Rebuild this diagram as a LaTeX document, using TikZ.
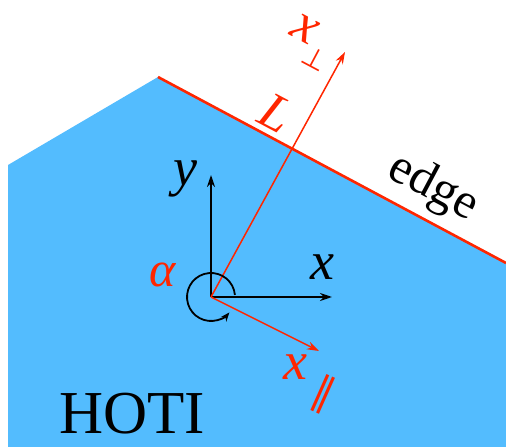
\documentclass[tikz,border=0pt]{standalone}
\usepackage{fontspec}
\setmainfont{Liberation Serif}
\newfontfamily\symf{DejaVu Sans}
\usetikzlibrary{arrows.meta}
\definecolor{hotiblue}{RGB}{83,188,254}
\definecolor{edgered}{RGB}{255,38,0}
\tikzset{
  axis/.style={line width=1.8pt,-{Stealth[length=12pt,width=8pt]}},
  raxis/.style={line width=1.5pt,edgered,-{Stealth[length=12pt,width=8pt]}},
  lab/.style={font=\fontsize{54}{54}\selectfont\itshape,inner sep=0pt},
  rlab/.style={lab,text=edgered},
}
\begin{document}
\begin{tikzpicture}[x=1pt,y=1pt]
\useasboundingbox (0,0) rectangle (506,447);
% body
\coordinate (p1) at (8,282);
\coordinate (p2) at (158,370);
\coordinate (p3) at (506,184);
\fill[hotiblue] (8,0) -- (p1) -- (p2) -- (p3) -- (506,0) -- cycle;
\draw[edgered,line width=2.6pt] (p2) -- (p3);
% axes
\coordinate (o) at (211,150);
\coordinate (ytip) at (211,272);
\coordinate (xtip) at (332,150);
\coordinate (partip) at (319,96);
\coordinate (perptip) at (345,395);
\draw[axis] (o) -- (ytip);
\draw[axis] (o) -- (xtip);
\draw[raxis] (o) -- (partip);
\draw[raxis] (o) -- (perptip);
% angle arc
\draw[line width=1.8pt,-{Stealth[length=9pt,width=7pt]}] ([shift={(5:24)}]o) arc[start angle=5,end angle=320,radius=24];
% labels
\node[lab] (ly) at (185,268) {y};
\node[lab] (lx) at (322,180) {x};
\node[rlab,font=\fontsize{50}{50}\selectfont\itshape] (la) at (163,172) {α};
\node[rlab,rotate=-28,font=\fontsize{52}{52}\selectfont\itshape] (lL) at (276,334) {L};
\node[rlab,rotate=-28,anchor=base west] (lperp) at (288,413) {x\kern-1pt\raisebox{-19pt}{\fontsize{28}{28}\selectfont\symf\upshape ⊥}};
\node[rlab,anchor=base west] (lpar) at (283,67) {x\kern-1pt\raisebox{-26pt}[0pt][0pt]{\rotatebox[origin=c]{-24}{\fontsize{40}{40}\selectfont\symf\upshape ∥}}};
\node[font=\fontsize{50}{50}\selectfont,inner sep=0pt,rotate=-28] (ledge) at (433,259) {edge};
\node[font=\fontsize{61}{61}\selectfont,inner sep=0pt] (lhoti) at (132,33) {HOTI};
\end{tikzpicture}
\end{document}
